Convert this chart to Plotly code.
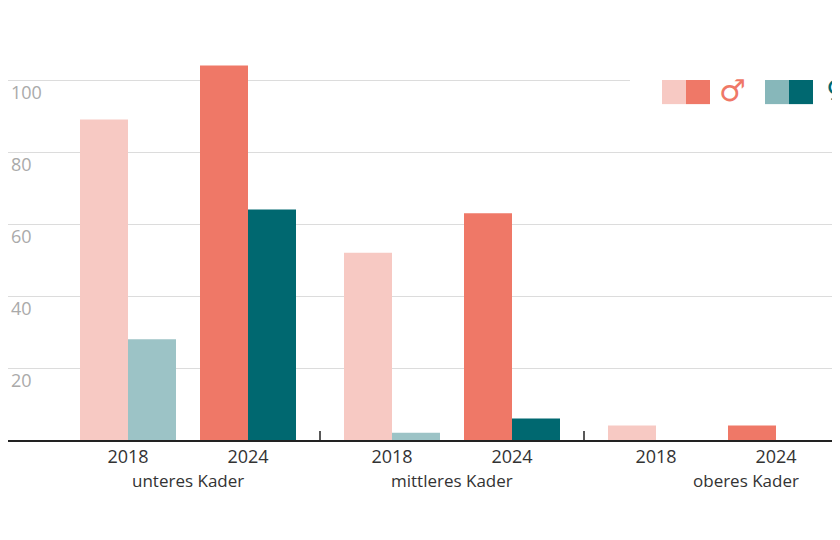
import plotly.graph_objects as go

groups = ["unteres Kader", "mittleres Kader", "oberes Kader"]
years = ["2018", "2024"]
male = {"2018": [89, 52, 4], "2024": [104, 63, 4]}
female = {"2018": [28, 2, 0], "2024": [64, 6, 0]}

colors_m = {"2018": "#f7c9c3", "2024": "#ef7867"}
colors_f = {"2018": "#9cc3c6", "2024": "#006870"}

FONT = "Open Sans"


def slot(g, y):
    return 120 + g * 264 + y * 120


fig = go.Figure()
for yi, yr in enumerate(years):
    xs = [slot(g, yi) for g in range(len(groups))]
    fig.add_trace(go.Bar(x=[x - 24 for x in xs], y=male[yr], width=48,
                         marker=dict(color=colors_m[yr], line=dict(width=0))))
    fig.add_trace(go.Bar(x=[x + 24 for x in xs], y=female[yr], width=48,
                         marker=dict(color=colors_f[yr], line=dict(width=0))))

tickvals = [slot(g, y) for g in range(len(groups)) for y in range(len(years))]
ticktext = [yr for g in groups for yr in years]

# group labels
for g, name in enumerate(groups):
    fig.add_annotation(x=(slot(g, 0) + slot(g, 1)) / 2 + (30 if g == 2 else 0),
                       y=-0.125, yref="paper", text=name, showarrow=False,
                       font=dict(family=FONT, size=17, color="#333"))
# separators
for sx in (312, 576):
    fig.add_shape(type="line", x0=sx, x1=sx, y0=-2.5, y1=2.5, xref="x", yref="y",
                  line=dict(color="#222", width=1.5))

# custom legend with white background
fig.add_shape(type="rect", x0=622, x1=842, y0=92, y1=108, xref="x", yref="y",
              fillcolor="white", line=dict(width=0), layer="above")
for x0, c in [(654, "#f7c9c3"), (678, "#ef7867"), (757, "#87b7ba"), (781, "#006870")]:
    fig.add_shape(type="rect", x0=x0, x1=x0 + 24, y0=93.3, y1=100, xref="x", yref="y",
                  fillcolor=c, line=dict(width=0), layer="above")
fig.add_annotation(x=724, y=97, text="♂", showarrow=False,
                   font=dict(family="DejaVu Sans", size=30, color="#ef7867"))
fig.add_annotation(x=828, y=97, text="♀", showarrow=False,
                   font=dict(family="DejaVu Sans", size=28, color="#006870"))

fig.update_layout(
    width=840, height=540, showlegend=False, barmode="overlay",
    margin=dict(l=0, r=0, t=0, b=108, autoexpand=False),
    plot_bgcolor="white", paper_bgcolor="white",
    font=dict(family=FONT, color="#333"),
)
fig.update_xaxes(range=[0, 840], tickvals=tickvals, ticktext=ticktext,
                 showgrid=False, zeroline=False, showline=True, linecolor="#222",
                 linewidth=1.5, ticks="", tickfont=dict(size=18, color="#333"))
fig.update_yaxes(range=[0, 120], tickvals=[20, 40, 60, 80, 100],
                 ticklabelposition="inside bottom", showgrid=True, gridcolor="#dcdcdc",
                 zeroline=False, tickfont=dict(size=18, color="#aaa"))

fig.write_html("out.html")
